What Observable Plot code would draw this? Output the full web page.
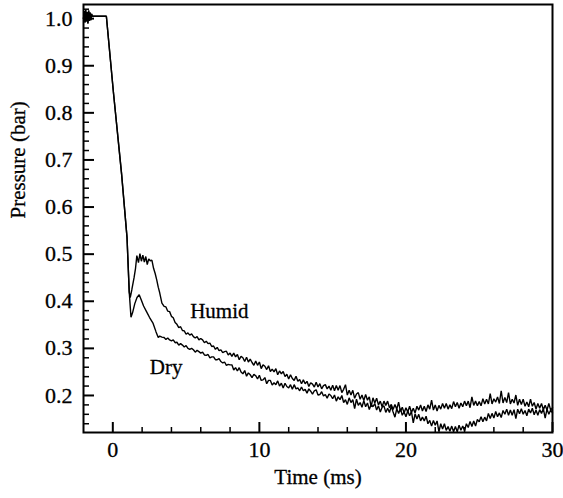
<!DOCTYPE html>
<html>
<head>
<meta charset="utf-8">
<script src="https://cdn.jsdelivr.net/npm/d3@7"></script>
<script src="https://cdn.jsdelivr.net/npm/@observablehq/plot@0.6"></script>
<style>
  html, body { margin: 0; padding: 0; background: #fff; }
  #chart svg { display: block; }
</style>
</head>
<body>
<div id="chart"></div>
<script>
// Shared part (pre-trigger noise and the initial pressure drop), [time ms, pressure bar]
const commonStart = [
  [-2.0, 1.000], [-1.95, 1.016], [-1.9, 0.992], [-1.85, 1.018], [-1.8, 0.994], [-1.75, 1.014],
  [-1.7, 0.990], [-1.65, 1.017], [-1.6, 0.995], [-1.55, 1.013], [-1.5, 0.997], [-1.45, 1.010],
  [-1.4, 1.005], [-0.44, 1.005], [0.05, 0.841], [0.6, 0.670], [0.97, 0.535], [1.12, 0.420]
];

const dryValues = [
  [1.24, 0.366], [1.35, 0.376], [1.5, 0.395], [1.65, 0.408], [1.8, 0.414], [1.95, 0.402],
  [2.1, 0.390], [2.3, 0.378], [2.5, 0.366], [2.75, 0.353], [2.95, 0.335], [3.1, 0.323],
  [3.2, 0.326], [3.35, 0.324],
  [3.5, 0.323], [3.625, 0.319], [3.75, 0.322], [3.875, 0.318], [4.0, 0.316], [4.125, 0.318],
  [4.25, 0.312], [4.375, 0.313], [4.5, 0.307], [4.625, 0.310], [4.75, 0.307], [4.875, 0.303],
  [5.0, 0.306], [5.125, 0.300], [5.25, 0.298], [5.375, 0.300], [5.5, 0.297], [5.625, 0.292],
  [5.75, 0.296], [5.875, 0.293], [6.0, 0.290], [6.125, 0.292], [6.25, 0.286], [6.375, 0.285],
  [6.5, 0.287], [6.625, 0.280], [6.75, 0.282], [6.875, 0.282], [7.0, 0.276], [7.125, 0.276],
  [7.25, 0.278], [7.375, 0.272], [7.5, 0.269], [7.625, 0.271], [7.75, 0.264], [7.875, 0.266],
  [8.0, 0.265], [8.125, 0.265], [8.25, 0.254], [8.375, 0.259], [8.5, 0.252], [8.625, 0.259],
  [8.75, 0.250], [8.875, 0.246], [9.0, 0.253], [9.125, 0.241], [9.25, 0.248], [9.375, 0.244],
  [9.5, 0.238], [9.625, 0.245], [9.75, 0.242], [9.875, 0.235], [10.0, 0.243], [10.125, 0.232],
  [10.25, 0.233], [10.375, 0.238], [10.5, 0.225], [10.625, 0.232], [10.75, 0.232], [10.875, 0.222],
  [11.0, 0.227], [11.125, 0.223], [11.25, 0.231], [11.375, 0.220], [11.5, 0.226], [11.625, 0.216],
  [11.75, 0.226], [11.875, 0.219], [12.0, 0.216], [12.125, 0.223], [12.25, 0.213], [12.375, 0.223],
  [12.5, 0.214], [12.625, 0.216], [12.75, 0.210], [12.875, 0.218], [13.0, 0.210], [13.125, 0.213],
  [13.25, 0.205], [13.375, 0.214], [13.5, 0.209], [13.625, 0.203], [13.75, 0.210], [13.875, 0.212],
  [14.0, 0.201], [14.125, 0.202], [14.25, 0.208], [14.375, 0.199], [14.5, 0.202], [14.625, 0.194],
  [14.75, 0.203], [14.875, 0.200], [15.0, 0.193], [15.125, 0.201], [15.25, 0.188], [15.375, 0.197],
  [15.5, 0.191], [15.625, 0.200], [15.75, 0.185], [15.875, 0.191], [16.0, 0.181], [16.125, 0.195],
  [16.25, 0.185], [16.375, 0.191], [16.5, 0.172], [16.625, 0.192], [16.75, 0.179], [16.875, 0.185],
  [17.0, 0.175], [17.125, 0.189], [17.25, 0.176], [17.375, 0.184], [17.5, 0.170], [17.625, 0.181],
  [17.75, 0.176], [17.875, 0.183], [18.0, 0.169], [18.125, 0.178], [18.25, 0.165], [18.375, 0.175],
  [18.5, 0.178], [18.625, 0.164], [18.75, 0.173], [18.875, 0.164], [19.0, 0.177], [19.125, 0.165],
  [19.25, 0.154], [19.375, 0.172], [19.5, 0.162], [19.625, 0.172], [19.75, 0.158], [19.875, 0.165],
  [20.0, 0.155], [20.125, 0.167], [20.25, 0.157], [20.375, 0.166], [20.5, 0.142], [20.625, 0.161],
  [20.75, 0.150], [20.875, 0.160], [21.0, 0.146], [21.125, 0.154], [21.25, 0.146], [21.375, 0.156],
  [21.5, 0.140], [21.625, 0.147], [21.75, 0.135], [21.875, 0.147], [22.0, 0.137], [22.125, 0.146],
  [22.25, 0.123], [22.375, 0.140], [22.5, 0.129], [22.625, 0.140], [22.75, 0.126], [22.875, 0.134],
  [23.0, 0.124], [23.125, 0.135], [23.25, 0.123], [23.375, 0.134], [23.5, 0.123], [23.625, 0.137],
  [23.75, 0.126], [23.875, 0.135], [24.0, 0.125], [24.125, 0.140], [24.25, 0.132], [24.375, 0.145],
  [24.5, 0.134], [24.625, 0.146], [24.75, 0.135], [24.875, 0.149], [25.0, 0.144], [25.125, 0.155],
  [25.25, 0.144], [25.375, 0.154], [25.5, 0.146], [25.625, 0.162], [25.75, 0.151], [25.875, 0.162],
  [26.0, 0.152], [26.125, 0.166], [26.25, 0.155], [26.375, 0.163], [26.5, 0.153], [26.625, 0.168],
  [26.75, 0.160], [26.875, 0.171], [27.0, 0.158], [27.125, 0.169], [27.25, 0.158], [27.375, 0.170],
  [27.5, 0.151], [27.625, 0.171], [27.75, 0.161], [27.875, 0.172], [28.0, 0.160], [28.125, 0.168],
  [28.25, 0.157], [28.375, 0.171], [28.5, 0.163], [28.625, 0.173], [28.75, 0.159], [28.875, 0.169],
  [29.0, 0.158], [29.125, 0.170], [29.25, 0.162], [29.375, 0.172], [29.5, 0.152], [29.625, 0.171],
  [29.75, 0.160], [29.875, 0.169], [30.0, 0.163]
];

const humidValues = [
  [1.19, 0.408], [1.3, 0.425], [1.45, 0.450], [1.55, 0.470], [1.64, 0.497], [1.75, 0.482],
  [1.85, 0.501], [1.95, 0.485], [2.05, 0.498], [2.15, 0.483], [2.25, 0.495], [2.35, 0.478],
  [2.45, 0.490], [2.55, 0.486], [2.67, 0.487], [2.78, 0.470], [2.89, 0.459], [3.0, 0.445],
  [3.1, 0.430], [3.2, 0.418], [3.35, 0.396],
  [3.5, 0.389], [3.625, 0.388], [3.75, 0.379], [3.875, 0.378], [4.0, 0.368], [4.125, 0.365],
  [4.25, 0.355], [4.375, 0.351], [4.5, 0.344], [4.625, 0.346], [4.75, 0.338], [4.875, 0.337],
  [5.0, 0.330], [5.125, 0.333], [5.25, 0.328], [5.375, 0.331], [5.5, 0.325], [5.625, 0.322],
  [5.75, 0.325], [5.875, 0.318], [6.0, 0.321], [6.125, 0.318], [6.25, 0.312], [6.375, 0.315],
  [6.5, 0.310], [6.625, 0.311], [6.75, 0.304], [6.875, 0.305], [7.0, 0.298], [7.125, 0.302],
  [7.25, 0.295], [7.375, 0.297], [7.5, 0.291], [7.625, 0.293], [7.75, 0.294], [7.875, 0.286],
  [8.0, 0.290], [8.125, 0.283], [8.25, 0.290], [8.375, 0.282], [8.5, 0.287], [8.625, 0.276],
  [8.75, 0.283], [8.875, 0.280], [9.0, 0.272], [9.125, 0.281], [9.25, 0.271], [9.375, 0.277],
  [9.5, 0.270], [9.625, 0.264], [9.75, 0.273], [9.875, 0.264], [10.0, 0.271], [10.125, 0.257],
  [10.25, 0.265], [10.375, 0.262], [10.5, 0.255], [10.625, 0.263], [10.75, 0.251], [10.875, 0.256],
  [11.0, 0.250], [11.125, 0.257], [11.25, 0.244], [11.375, 0.252], [11.5, 0.246], [11.625, 0.251],
  [11.75, 0.240], [11.875, 0.245], [12.0, 0.235], [12.125, 0.244], [12.25, 0.236], [12.375, 0.232],
  [12.5, 0.241], [12.625, 0.230], [12.75, 0.234], [12.875, 0.225], [13.0, 0.233], [13.125, 0.225],
  [13.25, 0.230], [13.375, 0.219], [13.5, 0.227], [13.625, 0.224], [13.75, 0.218], [13.875, 0.228],
  [14.0, 0.218], [14.125, 0.225], [14.25, 0.214], [14.375, 0.221], [14.5, 0.223], [14.625, 0.214],
  [14.75, 0.220], [14.875, 0.211], [15.0, 0.222], [15.125, 0.210], [15.25, 0.221], [15.375, 0.211],
  [15.5, 0.221], [15.625, 0.206], [15.75, 0.213], [15.875, 0.223], [16.0, 0.201], [16.125, 0.211],
  [16.25, 0.201], [16.375, 0.211], [16.5, 0.194], [16.625, 0.203], [16.75, 0.206], [16.875, 0.192],
  [17.0, 0.201], [17.125, 0.189], [17.25, 0.202], [17.375, 0.190], [17.5, 0.197], [17.625, 0.176],
  [17.75, 0.195], [17.875, 0.184], [18.0, 0.194], [18.125, 0.180], [18.25, 0.188], [18.375, 0.176],
  [18.5, 0.188], [18.625, 0.179], [18.75, 0.188], [18.875, 0.174], [19.0, 0.181], [19.125, 0.170],
  [19.25, 0.181], [19.375, 0.171], [19.5, 0.186], [19.625, 0.166], [19.75, 0.175], [19.875, 0.163],
  [20.0, 0.174], [20.125, 0.165], [20.25, 0.177], [20.375, 0.164], [20.5, 0.173], [20.625, 0.163],
  [20.75, 0.177], [20.875, 0.169], [21.0, 0.180], [21.125, 0.167], [21.25, 0.177], [21.375, 0.166],
  [21.5, 0.180], [21.625, 0.171], [21.75, 0.190], [21.875, 0.169], [22.0, 0.180], [22.125, 0.167],
  [22.25, 0.179], [22.375, 0.171], [22.5, 0.183], [22.625, 0.173], [22.75, 0.183], [22.875, 0.171],
  [23.0, 0.180], [23.125, 0.172], [23.25, 0.187], [23.375, 0.176], [23.5, 0.185], [23.625, 0.173],
  [23.75, 0.184], [23.875, 0.176], [24.0, 0.188], [24.125, 0.178], [24.25, 0.188], [24.375, 0.174],
  [24.5, 0.197], [24.625, 0.179], [24.75, 0.188], [24.875, 0.178], [25.0, 0.187], [25.125, 0.178],
  [25.25, 0.193], [25.375, 0.182], [25.5, 0.192], [25.625, 0.182], [25.75, 0.204], [25.875, 0.182],
  [26.0, 0.193], [26.125, 0.186], [26.25, 0.197], [26.375, 0.183], [26.5, 0.210], [26.625, 0.184],
  [26.75, 0.196], [26.875, 0.185], [27.0, 0.206], [27.125, 0.182], [27.25, 0.192], [27.375, 0.184],
  [27.5, 0.201], [27.625, 0.179], [27.75, 0.192], [27.875, 0.181], [28.0, 0.192], [28.125, 0.177],
  [28.25, 0.186], [28.375, 0.176], [28.5, 0.192], [28.625, 0.177], [28.75, 0.185], [28.875, 0.171],
  [29.0, 0.183], [29.125, 0.173], [29.25, 0.183], [29.375, 0.170], [29.5, 0.179], [29.625, 0.169],
  [29.75, 0.183], [29.875, 0.169], [30.0, 0.174]
];

const xMajorTicks = [0, 10, 20, 30];
const xMinorTicks = [2, 4, 6, 8, 12, 14, 16, 18, 22, 24, 26, 28];
const yMajorTicks = [0.2, 0.3, 0.4, 0.5, 0.6, 0.7, 0.8, 0.9, 1.0];
const yMinorTicks = [0.14, 0.16, 0.18, 0.22, 0.24, 0.26, 0.28, 0.32, 0.34, 0.36, 0.38,
  0.42, 0.44, 0.46, 0.48, 0.52, 0.54, 0.56, 0.58, 0.62, 0.64, 0.66, 0.68,
  0.72, 0.74, 0.76, 0.78, 0.82, 0.84, 0.86, 0.88, 0.92, 0.94, 0.96, 0.98, 1.02];

const seriesLabels = [
  {name: "Humid", t: 5.28, p: 0.379},
  {name: "Dry", t: 2.52, p: 0.260}
];

const rows = [
  ...commonStart.map(([t, p]) => ({series: "Dry", t, p})),
  ...dryValues.map(([t, p]) => ({series: "Dry", t, p})),
  ...commonStart.map(([t, p]) => ({series: "Humid", t, p})),
  ...humidValues.map(([t, p]) => ({series: "Humid", t, p}))
];

const W = 563, H = 498;
const mL = 83, mR = 11, mT = 4, mB = 66;
const frameW = W - mL - mR, frameH = H - mT - mB;
const SERIF = "Liberation Serif";
const FS = 21;
const TXT = {fontFamily: SERIF, fill: "#000", stroke: "#000", strokeWidth: 0.3};

const chart = Plot.plot({
  width: W,
  height: H,
  marginLeft: mL,
  marginRight: mR,
  marginTop: mT,
  marginBottom: mB,
  style: {fontFamily: SERIF, fontSize: FS + "px", color: "#000", background: "#fff"},
  x: {domain: [-2, 30], axis: null},
  y: {domain: [0.1214, 1.030], axis: null},
  marks: [
    Plot.line(rows, {x: "t", y: "p", z: "series", stroke: "#000", strokeWidth: 1.4, strokeLinejoin: "miter"}),
    // inward tick marks
    Plot.tickX(xMajorTicks, {x: d => d, stroke: "#000", strokeWidth: 2, insetTop: frameH - 10}),
    Plot.tickX(xMinorTicks, {x: d => d, stroke: "#000", strokeWidth: 1.5, insetTop: frameH - 5}),
    Plot.tickY(yMajorTicks, {y: d => d, stroke: "#000", strokeWidth: 2, insetRight: frameW - 11}),
    Plot.tickY(yMinorTicks, {y: d => d, stroke: "#000", strokeWidth: 1.5, insetRight: frameW - 6}),
    // tick labels drawn as text marks at the scale positions
    Plot.text(xMajorTicks, {x: d => d, text: d => d3.format("d")(d), frameAnchor: "bottom", lineAnchor: "top", dy: 9, fontSize: 22, ...TXT}),
    Plot.text(yMajorTicks, {y: d => d, text: d => d3.format(".1f")(d), frameAnchor: "left", textAnchor: "end", dx: -11, fontSize: 22, ...TXT}),
    Plot.frame({stroke: "#000", strokeWidth: 2}),
    Plot.text(seriesLabels, {x: "t", y: "p", text: "name", textAnchor: "start", fontSize: FS, ...TXT}),
    Plot.text(["Time (ms)"], {frameAnchor: "bottom", dy: 51, fontSize: FS, ...TXT}),
    Plot.text(["Pressure (bar)"], {frameAnchor: "left", dx: -65, rotate: -90, fontSize: FS, ...TXT})
  ]
});

document.getElementById("chart").appendChild(chart);
</script>
</body>
</html>
